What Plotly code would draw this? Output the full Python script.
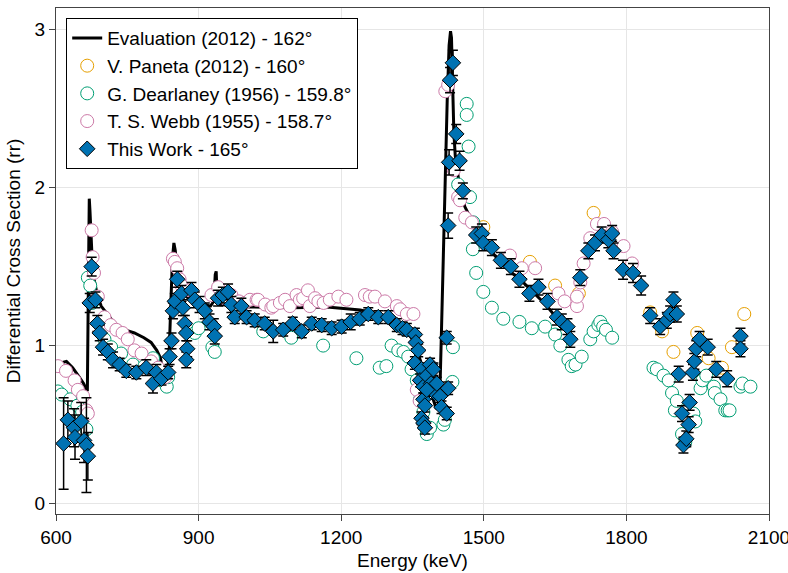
import plotly.graph_objects as go

# ---------------- data ----------------
eval_E = [600, 610, 622, 635, 649, 658, 664, 666, 667.5, 669, 670, 671.5, 673, 676, 680, 687, 695, 710, 723,
          745, 765, 785, 800, 812, 820, 826, 829, 833, 838, 842, 845, 848, 851, 854, 860, 875, 900, 925, 932,
          935, 937, 939, 945, 1000, 1100, 1170, 1240, 1280, 1310, 1330, 1350, 1365, 1380, 1392, 1400, 1405,
          1408, 1411, 1415, 1419, 1423, 1427, 1430, 1432, 1434, 1437, 1440, 1447, 1460, 1475, 1492, 1510,
          1534, 1555, 1576, 1600, 1630, 1660, 1685]
eval_y = [0.87, 0.89, 0.90, 0.86, 0.80, 0.76, 0.72, 0.72, 1.20, 1.75, 1.93, 1.85, 1.70, 1.55, 1.42, 1.32, 1.25,
          1.19, 1.14, 1.10, 1.08, 1.05, 1.02, 0.97, 0.92, 0.80, 0.75, 0.78, 0.95, 1.30, 1.55, 1.65, 1.60, 1.48,
          1.38, 1.31, 1.27, 1.25, 1.28, 1.45, 1.47, 1.30, 1.26, 1.245, 1.24, 1.245, 1.225, 1.20, 1.17, 1.12,
          1.04, 0.92, 0.78, 0.66, 0.60, 0.62, 0.75, 1.10, 1.60, 2.10, 2.55, 2.90, 2.99, 2.95, 2.65, 2.35, 2.20,
          2.05, 1.88, 1.79, 1.71, 1.62, 1.53, 1.47, 1.42, 1.35, 1.26, 1.15, 1.05]

paneta_E = [1499, 1597, 1650, 1700, 1731, 1850, 1875, 1899, 1949, 1973, 2001, 2022, 2048]
paneta_y = [1.75, 1.53, 1.38, 1.33, 1.84, 1.21, 1.09, 0.96, 1.08, 0.92, 0.86, 0.99, 1.20]

dear_E = [604, 612, 630, 645, 655, 664, 667, 672, 676, 702, 716, 737, 762, 786, 804, 822, 833, 836,
          892, 900, 929, 934, 1036, 1095, 1162, 1232, 1281, 1295, 1306, 1320, 1331, 1341, 1348, 1359,
          1366, 1373, 1380, 1387, 1415, 1418, 1434, 1435, 1446, 1464, 1464, 1468, 1471, 1478, 1477, 1484,
          1499, 1517, 1541, 1575, 1601, 1629, 1650, 1661, 1678, 1685, 1693, 1706, 1724, 1731, 1741, 1745,
          1751, 1757, 1770, 1857, 1864, 1878, 1889, 1896, 1902, 1906, 1917, 1924, 1941, 1945, 1956, 1960,
          1968, 1984, 1986, 1998, 2008, 2013, 2017, 2040, 2044, 2061]
dear_y = [0.71, 0.69, 0.66, 0.62, 0.58, 0.47, 1.43, 1.38, 1.27, 1.04, 0.99, 0.95, 0.88, 0.87, 0.92, 0.78,
          0.74, 0.80, 1.08, 1.11, 0.99, 0.96, 1.09, 1.05, 1.00, 0.92, 0.86, 0.87, 1.00, 0.97, 0.96, 0.93, 0.85,
          0.78, 0.66, 0.58, 0.44, 0.48, 0.50, 0.53, 0.77, 0.99, 2.02, 2.53, 2.46, 2.26, 1.94, 1.78, 1.61, 1.46,
          1.34, 1.24, 1.17, 1.15, 1.11, 1.12, 1.07, 1.00, 0.91, 0.87, 0.88, 0.93, 1.04, 1.09, 1.13, 1.15, 1.12,
          1.10, 1.05, 0.86, 0.85, 0.81, 0.78, 0.70, 0.59, 0.65, 0.44, 0.39, 0.57, 0.52, 0.73, 0.78, 0.81, 0.74,
          0.70, 0.66, 0.59, 0.59, 0.59, 0.74, 0.76, 0.74]

webb_E = [604, 621, 639, 646, 657, 664, 667, 675, 677, 680, 688, 702, 715, 727, 740, 751, 765, 780, 800,
          815, 830, 846, 850, 855, 860, 864, 880, 927, 941, 955, 969, 985, 997, 1008, 1022, 1025, 1040, 1053,
          1057, 1071, 1082, 1092, 1106, 1113, 1120, 1130, 1134, 1145, 1152, 1163, 1176, 1194, 1211, 1250,
          1260, 1271, 1292, 1317, 1324, 1338, 1352, 1359, 1365, 1419, 1425, 1437, 1446, 1450, 1461, 1475,
          1555, 1580, 1608, 1657, 1670, 1696, 1696, 1703, 1710, 1724, 1738, 1753, 1770, 1794, 1812]
webb_y = [0.87, 0.84, 0.78, 0.72, 0.68, 0.59, 0.57, 1.73, 1.56, 1.46, 1.31, 1.18, 1.13, 1.10, 1.08, 1.04,
          0.97, 0.95, 0.90, 0.86, 0.80, 1.55, 1.53, 1.49, 1.42, 1.38, 1.35, 1.32, 1.37, 1.30, 1.32, 1.28, 1.27,
          1.29, 1.29, 1.29, 1.26, 1.24, 1.25, 1.27, 1.29, 1.25, 1.32, 1.29, 1.30, 1.35, 1.25, 1.30, 1.28, 1.27,
          1.29, 1.31, 1.29, 1.32, 1.31, 1.31, 1.28, 1.25, 1.23, 1.20, 1.20, 0.72, 0.65, 2.61, 2.65, 2.11, 1.94,
          1.92, 1.81, 1.78, 1.57, 1.49, 1.49, 1.33, 1.28, 1.25, 1.31, 1.40, 1.52, 1.68, 1.77, 1.77, 1.72, 1.63,
          1.52]

work_E = [616, 625, 638, 640, 653, 659, 664, 667, 671, 675, 683, 687, 692, 699, 709, 720, 734, 748, 769,
          790, 804, 811, 822, 836, 839, 843, 846, 850, 855, 864, 867, 871, 874, 876, 874, 885, 892, 902, 913,
          923, 932, 934, 941, 951, 962, 969, 976, 990, 1001, 1018, 1039, 1057, 1078, 1098, 1117, 1138, 1159,
          1180, 1201, 1220, 1239, 1257, 1278, 1299, 1317, 1329, 1338, 1355, 1357, 1362, 1355, 1369, 1366,
          1373, 1380, 1387, 1389, 1394, 1397, 1401, 1373, 1376, 1369, 1373, 1376, 1380, 1408, 1411, 1422,
          1425, 1422, 1425, 1427, 1429, 1435, 1442, 1449, 1456, 1484, 1496, 1499, 1517, 1536, 1557, 1575,
          1596, 1615, 1634, 1654, 1664, 1676, 1682, 1703, 1720, 1734, 1748, 1762, 1770, 1773, 1793, 1814,
          1831, 1850, 1871, 1885, 1892, 1899, 1906, 1910, 1917, 1920, 1926, 1931, 1933, 1940, 1943, 1947,
          1954, 1971, 1989, 2012, 2040, 2040]
work_y = [0.38, 0.53, 0.48, 0.42, 0.52, 0.40, 0.37, 0.30, 1.27, 1.50, 1.29, 1.14, 1.08, 0.99, 0.96, 0.91,
          0.88, 0.84, 0.83, 0.86, 0.76, 0.83, 0.79, 0.83, 0.93, 1.03, 1.22, 1.28, 1.42, 1.33, 1.24, 1.14, 1.08,
          0.98, 0.91, 1.35, 1.29, 1.26, 1.22, 1.15, 1.12, 1.06, 1.30, 1.32, 1.34, 1.26, 1.18, 1.25, 1.18, 1.16,
          1.14, 1.09, 1.10, 1.14, 1.09, 1.14, 1.13, 1.11, 1.12, 1.15, 1.17, 1.20, 1.18, 1.18, 1.13, 1.11, 1.10,
          1.07, 1.02, 0.97, 0.89, 0.85, 0.78, 0.74, 0.81, 0.88, 0.76, 0.85, 0.70, 0.76, 0.66, 0.62, 0.54, 0.51,
          0.48, 0.72, 0.68, 0.61, 0.57, 0.73, 1.05, 1.76, 2.16, 2.68, 2.79, 2.34, 2.17, 1.98, 1.70, 1.71, 1.65,
          1.62, 1.54, 1.50, 1.42, 1.33, 1.37, 1.28, 1.18, 1.15, 1.12, 1.04, 1.43, 1.60, 1.65, 1.70, 1.67, 1.71,
          1.60, 1.48, 1.46, 1.38, 1.19, 1.12, 1.16, 1.20, 1.29, 1.20, 0.82, 0.57, 0.37, 0.41, 0.50, 0.64, 0.83,
          0.90, 0.98, 1.04, 0.99, 0.85, 0.79, 1.06, 0.98]
work_err = [0.29, 0.12, 0.12, 0.14, 0.12, 0.14, 0.30, 0.15, 0.06, 0.06, 0.05, 0.05, 0.05, 0.05, 0.05, 0.05,
            0.04, 0.04, 0.04, 0.05, 0.06, 0.05, 0.04, 0.04, 0.05, 0.05, 0.05, 0.05, 0.05, 0.05, 0.05, 0.05,
            0.05, 0.05, 0.05, 0.05, 0.05, 0.05, 0.05, 0.05, 0.05, 0.05, 0.05, 0.05, 0.05, 0.05, 0.04, 0.05,
            0.04, 0.04, 0.04, 0.07, 0.04, 0.04, 0.04, 0.04, 0.04, 0.04, 0.04, 0.05, 0.04, 0.04, 0.04, 0.04,
            0.04, 0.04, 0.04, 0.04, 0.04, 0.04, 0.04, 0.04, 0.04, 0.04, 0.04, 0.04, 0.04, 0.04, 0.04, 0.04,
            0.04, 0.04, 0.04, 0.04, 0.04, 0.04, 0.04, 0.04, 0.04, 0.04, 0.04, 0.08, 0.08, 0.08, 0.08, 0.06,
            0.06, 0.05, 0.05, 0.06, 0.05, 0.05, 0.05, 0.05, 0.05, 0.05, 0.05, 0.05, 0.05, 0.05, 0.05, 0.05,
            0.05, 0.05, 0.05, 0.05, 0.05, 0.05, 0.05, 0.06, 0.06, 0.06, 0.05, 0.05, 0.05, 0.05, 0.05, 0.05,
            0.05, 0.05, 0.05, 0.05, 0.05, 0.05, 0.05, 0.05, 0.05, 0.05, 0.05, 0.05, 0.05, 0.05, 0.05, 0.05]

x_ticks = [600, 900, 1200, 1500, 1800, 2100]
y_ticks = [0, 1, 2, 3]

FONT = "Liberation Sans, Arial, Helvetica, sans-serif"

fig = go.Figure()
fig.add_trace(go.Scatter(x=eval_E, y=eval_y, mode="lines", name="Evaluation (2012) - 162°",
                         line=dict(color="black", width=3)))


def circ(col):
    return dict(symbol="circle", size=13, color="white", line=dict(width=1, color=col))


fig.add_trace(go.Scatter(x=paneta_E, y=paneta_y, mode="markers", name="V. Paneta (2012) - 160°",
                         marker=circ("#E69F00")))
fig.add_trace(go.Scatter(x=dear_E, y=dear_y, mode="markers", name="G. Dearlaney (1956) - 159.8°",
                         marker=circ("#009E73")))
fig.add_trace(go.Scatter(x=webb_E, y=webb_y, mode="markers", name="T. S. Webb (1955) - 158.7°",
                         marker=circ("#CC79A7")))
fig.add_trace(go.Scatter(x=work_E, y=work_y, mode="markers", name="This Work - 165°",
                         marker=dict(symbol="diamond", size=12, color="#0072B2",
                                     line=dict(color="black", width=1)),
                         error_y=dict(type="data", array=work_err, visible=True, color="black",
                                      thickness=1.5, width=5)))

axis_common = dict(showgrid=True, gridcolor="#e6e6e6", gridwidth=1, zeroline=False,
                   showline=True, linecolor="#444", linewidth=1.3, mirror=True,
                   ticks="outside", ticklen=6, tickcolor="#444", ticklabeloverflow="allow",
                   automargin=False,
                   tickfont=dict(family=FONT, size=19, color="black"))

fig.update_layout(
    width=788, height=573,
    margin=dict(l=56, r=19, t=8, b=59),
    paper_bgcolor="white", plot_bgcolor="white",
    font=dict(family=FONT, size=19, color="black"),
    xaxis=dict(range=[600, 2100], tickvals=x_ticks, ticktext=[str(t) for t in x_ticks],
               title=dict(text="Energy (keV)", font=dict(family=FONT, size=19), standoff=6),
               **axis_common),
    yaxis=dict(range=[-0.066, 3.137], tickvals=y_ticks, ticktext=[str(t) for t in y_ticks],
               title=dict(text="Differential Cross Section (rr)", font=dict(family=FONT, size=19), standoff=8),
               **axis_common),
    legend=dict(x=0.0143, y=0.98, xanchor="left", yanchor="top", bgcolor="white",
                bordercolor="black", borderwidth=1, font=dict(family=FONT, size=19)),
    showlegend=True,
)

fig.write_html("out.html")
